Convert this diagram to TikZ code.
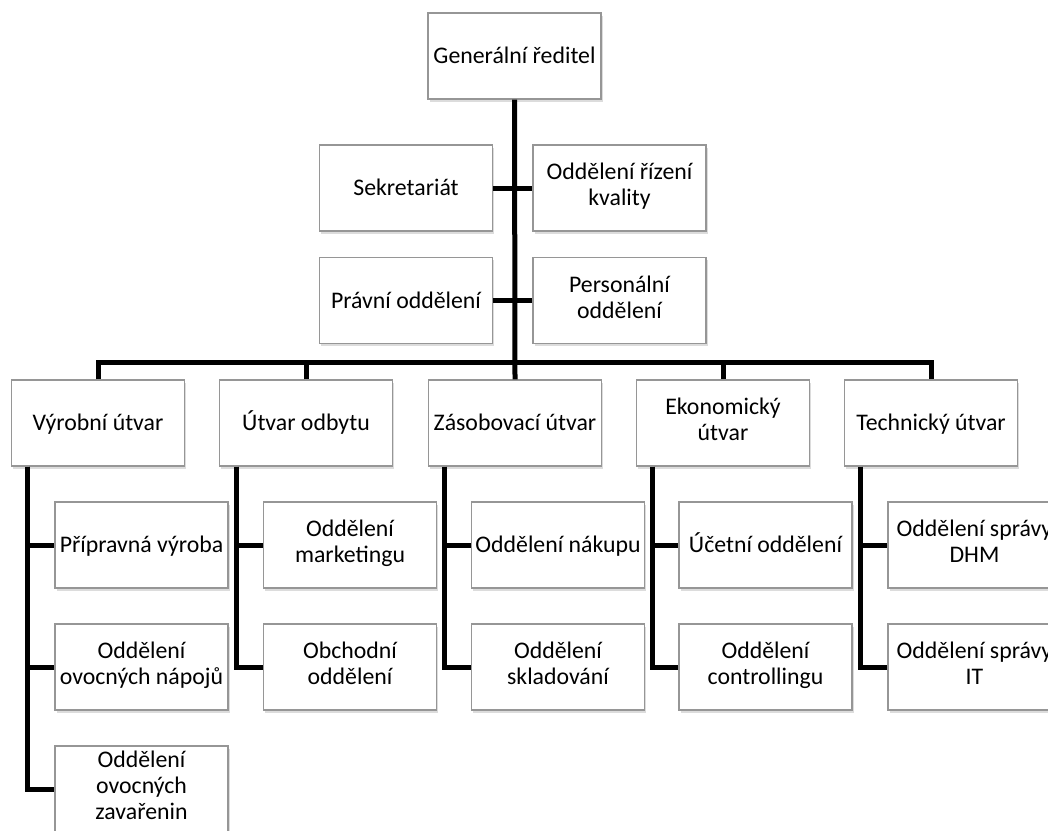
\documentclass[tikz,border=0pt]{standalone}
\usepackage{fontspec}
\setmainfont{Carlito}
\usetikzlibrary{shadows}

\definecolor{boxgray}{RGB}{150,150,150}

\tikzset{
  orgbox/.style={draw=boxgray, fill=white, line width=1.2pt,
    minimum width=173pt, minimum height=86pt, inner sep=1pt,
    align=center, font=\fontsize{23.8}{26}\selectfont,
    execute at begin node=\rule{0pt}{22.2pt},
    execute at end node=\rule[-6.8pt]{0pt}{6.8pt},
    drop shadow={shadow xshift=1.5pt, shadow yshift=-2.5pt,
      opacity=0.3, fill=black!45}},
  link/.style={line width=5pt}
}

\begin{document}
\begin{tikzpicture}[x=1pt, y=-1pt]

  \useasboundingbox (0,0) rectangle (1048,830);
  \clip (0,0) rectangle (1048,830);

  % top and staff boxes
  \node[orgbox] (gr) at (514.5,56) {Generální ředitel};
  \node[orgbox] (sek) at (406,188) {Sekretariát};
  \node[orgbox] (kval) at (619.5,188) {Oddělení řízení\\kvality};
  \node[orgbox] (prav) at (406,300.5) {Právní oddělení};
  \node[orgbox] (pers) at (619.5,300.5) {Personální\\oddělení};

  % divisions
  \node[orgbox] (vyr) at (98,423) {Výrobní útvar};
  \node[orgbox] (odb) at (306,423) {Útvar odbytu};
  \node[orgbox] (zas) at (515,423) {Zásobovací útvar};
  \node[orgbox] (eko) at (723,423) {Ekonomický\\útvar};
  \node[orgbox] (tech) at (931,423) {Technický útvar};

  % departments
  \node[orgbox] (prip) at (141.5,545) {Přípravná výroba};
  \node[orgbox] (napoj) at (141.5,667) {Oddělení\\ovocných nápojů};
  \node[orgbox] (zavar) at (141.5,789) {Oddělení\\ovocných\\zavařenin};
  \node[orgbox] (mark) at (350,545) {Oddělení\\marketingu};
  \node[orgbox] (obch) at (350,667) {Obchodní\\oddělení};
  \node[orgbox] (nak) at (558,545) {Oddělení nákupu};
  \node[orgbox] (sklad) at (558,667) {Oddělení\\skladování};
  \node[orgbox] (ucet) at (765.5,545) {Účetní oddělení};
  \node[orgbox] (contr) at (765.5,667) {Oddělení\\controllingu};
  \node[orgbox] (dhm) at (974.5,545) {Oddělení správy\\DHM};
  \node[orgbox] (it) at (974.5,667) {Oddělení správy\\IT};

  % trunk, staff stubs and the division bar
  \coordinate (hub) at (514.5,362);
  \draw[link] (gr.south) -- (zas.north);
  \draw[link] (sek.east) -- (kval.west);
  \draw[link] (prav.east) -- (pers.west);
  \draw[link] (vyr.north) |- (hub) -| (tech.north);
  \draw[link] (odb.north) -- (odb.north |- hub);
  \draw[link] (eko.north) -- (eko.north |- hub);

  % spines down to the departments
  \draw[link] ([xshift=17pt]vyr.south west) |- (prip.west);
  \draw[link] ([xshift=17pt]vyr.south west) |- (napoj.west);
  \draw[link] ([xshift=17pt]vyr.south west) |- (zavar.west);
  \draw[link] ([xshift=18pt]odb.south west) |- (mark.west);
  \draw[link] ([xshift=18pt]odb.south west) |- (obch.west);
  \draw[link] ([xshift=17pt]zas.south west) |- (nak.west);
  \draw[link] ([xshift=17pt]zas.south west) |- (sklad.west);
  \draw[link] ([xshift=17pt]eko.south west) |- (ucet.west);
  \draw[link] ([xshift=17pt]eko.south west) |- (contr.west);
  \draw[link] ([xshift=17pt]tech.south west) |- (dhm.west);
  \draw[link] ([xshift=17pt]tech.south west) |- (it.west);

\end{tikzpicture}
\end{document}
